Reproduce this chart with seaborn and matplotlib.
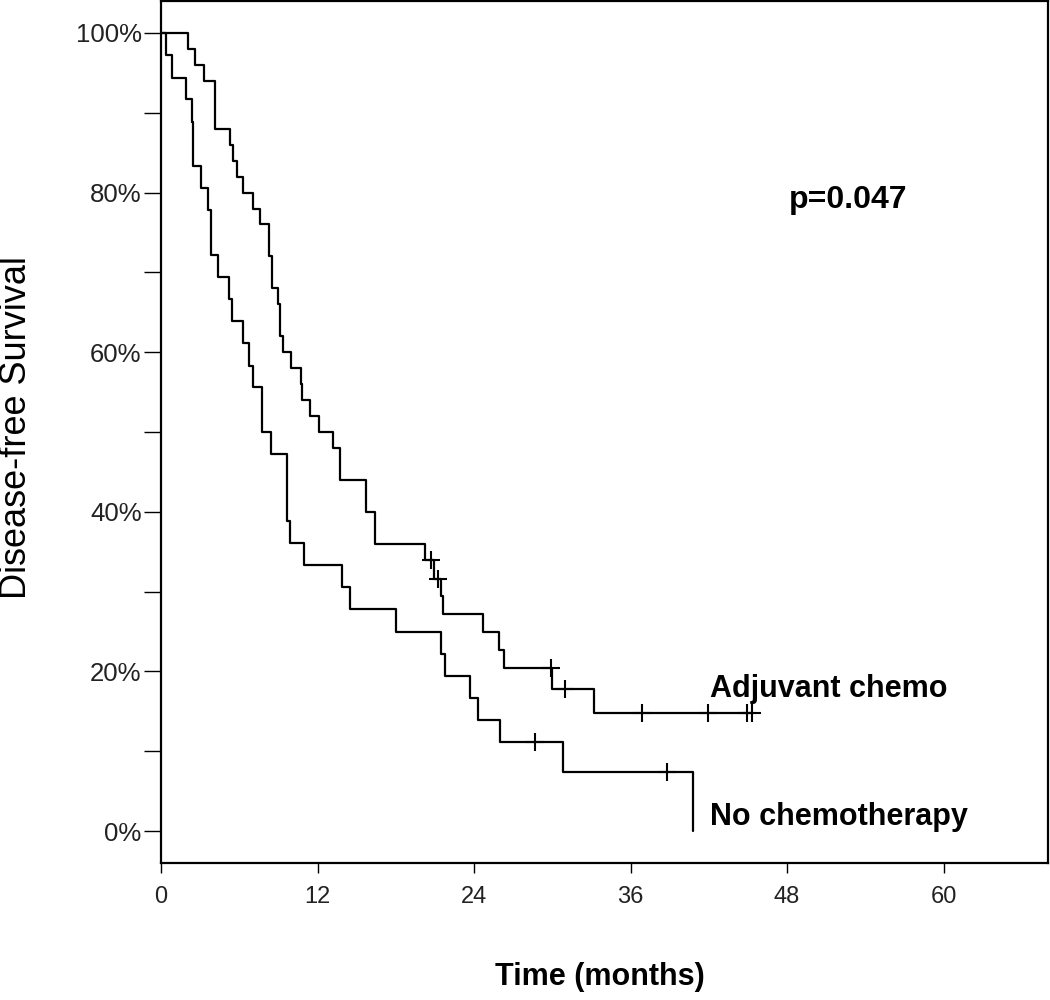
import numpy as np
import pandas as pd
import matplotlib
matplotlib.use("Agg")
import matplotlib.pyplot as plt
import seaborn as sns

# ---- data (time in months, survival in %) ----
adj_time = [0, 2.07, 2.63, 3.3, 4.14, 5.26, 5.49, 5.8, 6.31, 7.02, 7.59, 8.25, 8.53,
            8.97, 9.12, 9.37, 9.94, 10.73, 10.83, 11.42, 12.1, 13.18, 13.7, 15.7, 16.4,
            20.25, 20.9, 21.45, 21.6, 24.65, 25.9, 26.3, 30.0, 33.2, 45.3]
adj_surv = [100, 98, 96, 94, 88, 86, 84, 82, 80, 78, 76, 72, 68,
            66, 62, 60, 58, 56, 54, 52, 50, 48, 44, 40, 36,
            34, 31.6, 29.4, 27.2, 24.9, 22.7, 20.4, 17.8, 14.8, 14.8]
adj_cens = [20.67, 21.2, 29.9, 31.0, 36.9, 41.9, 44.9, 45.3]

noc_time = [0, 0.38, 0.82, 1.92, 2.35, 2.45, 3.04, 3.58, 3.83, 4.39, 5.23, 5.46, 6.31,
            6.72, 7.02, 7.71, 8.4, 9.63, 9.88, 10.98, 13.9, 14.5, 18.0, 21.5, 21.8,
            23.7, 24.3, 26.0, 30.8, 40.8]
noc_surv = [100, 97.2, 94.4, 91.7, 88.9, 83.3, 80.6, 77.8, 72.2, 69.4, 66.7, 63.9, 61.1,
            58.3, 55.6, 50.0, 47.2, 38.9, 36.1, 33.3, 30.6, 27.8, 25.0, 22.2, 19.4,
            16.7, 13.9, 11.1, 7.4, 0]
noc_cens = [28.7, 38.8]

groups = ["Adjuvant chemo", "No chemotherapy"]
x_ticks = [0, 12, 24, 36, 48, 60]
y_major = [0, 20, 40, 60, 80, 100]
y_minor = [10, 30, 50, 70, 90]
x_label = "Time (months)"
y_label = "Disease-free Survival"
p_text = "p=0.047"


def step_value(times, surv, t):
    idx = np.searchsorted(np.asarray(times), t, side="right") - 1
    return surv[idx]


curves = pd.concat([
    pd.DataFrame({"time": adj_time, "surv": adj_surv, "group": groups[0]}),
    pd.DataFrame({"time": noc_time, "surv": noc_surv, "group": groups[1]}),
], ignore_index=True)

cens = pd.concat([
    pd.DataFrame({"time": adj_cens,
                  "surv": [step_value(adj_time, adj_surv, t) for t in adj_cens],
                  "group": groups[0]}),
    pd.DataFrame({"time": noc_cens,
                  "surv": [step_value(noc_time, noc_surv, t) for t in noc_cens],
                  "group": groups[1]}),
], ignore_index=True)

sns.set_theme(style="white")
plt.rcParams["font.family"] = ["Liberation Sans", "DejaVu Sans"]
plt.rcParams["text.color"] = "black"

fig = plt.figure(figsize=(10.5, 10.0), dpi=100)
ax = fig.add_axes([161 / 1050, 137 / 1000, 887 / 1050, 862 / 1000])

for g in groups:
    sub = curves[curves.group == g]
    sns.lineplot(data=sub, x="time", y="surv", ax=ax, color="black",
                 linewidth=1.6, drawstyle="steps-post", estimator=None,
                 sort=False, legend=False)

sns.scatterplot(data=cens, x="time", y="surv", ax=ax, marker="+", s=150,
                color="black", linewidth=1.5, legend=False, zorder=5)

ax.set_xlim(0, 68.0)
ax.set_ylim(-4.0, 104.0)

ax.set_xticks(x_ticks)
ax.set_xticklabels([str(v) for v in x_ticks])
ax.set_yticks(y_major)
ax.set_yticklabels([f"{v}%" for v in y_major])
ax.set_yticks(y_minor, minor=True)

ax.tick_params(axis="x", which="major", direction="out", length=7.5, width=1.0,
               pad=9, labelsize=17, colors="black", bottom=True)
ax.tick_params(axis="y", which="both", direction="out", length=12.5, width=1.0,
               pad=1.5, labelsize=18.5, colors="black", left=True)
for lab in ax.get_xticklabels() + ax.get_yticklabels():
    lab.set_color("#222222")

for s in ax.spines.values():
    s.set_visible(True)
    s.set_color("black")
    s.set_linewidth(1.6)

ax.set_xlabel("")
ax.set_ylabel("")
fig.text(600 / 1050, 1 - 977 / 1000, x_label, ha="center", va="center",
         fontsize=22, fontweight="bold", color="black")
fig.text(17 / 1050, 1 - 428 / 1000, y_label, ha="center", va="center",
         rotation=90, fontsize=26, color="black")

ax.text(48.1, 78.1, p_text, ha="left", va="baseline", fontsize=23,
        fontweight="bold", color="black")
ax.text(42.1, 16.8, groups[0], ha="left", va="baseline", fontsize=22,
        fontweight="bold", color="black")
ax.text(42.1, 0.75, groups[1], ha="left", va="baseline", fontsize=22,
        fontweight="bold", color="black")

fig.savefig("out.png", dpi=100, facecolor="white")
